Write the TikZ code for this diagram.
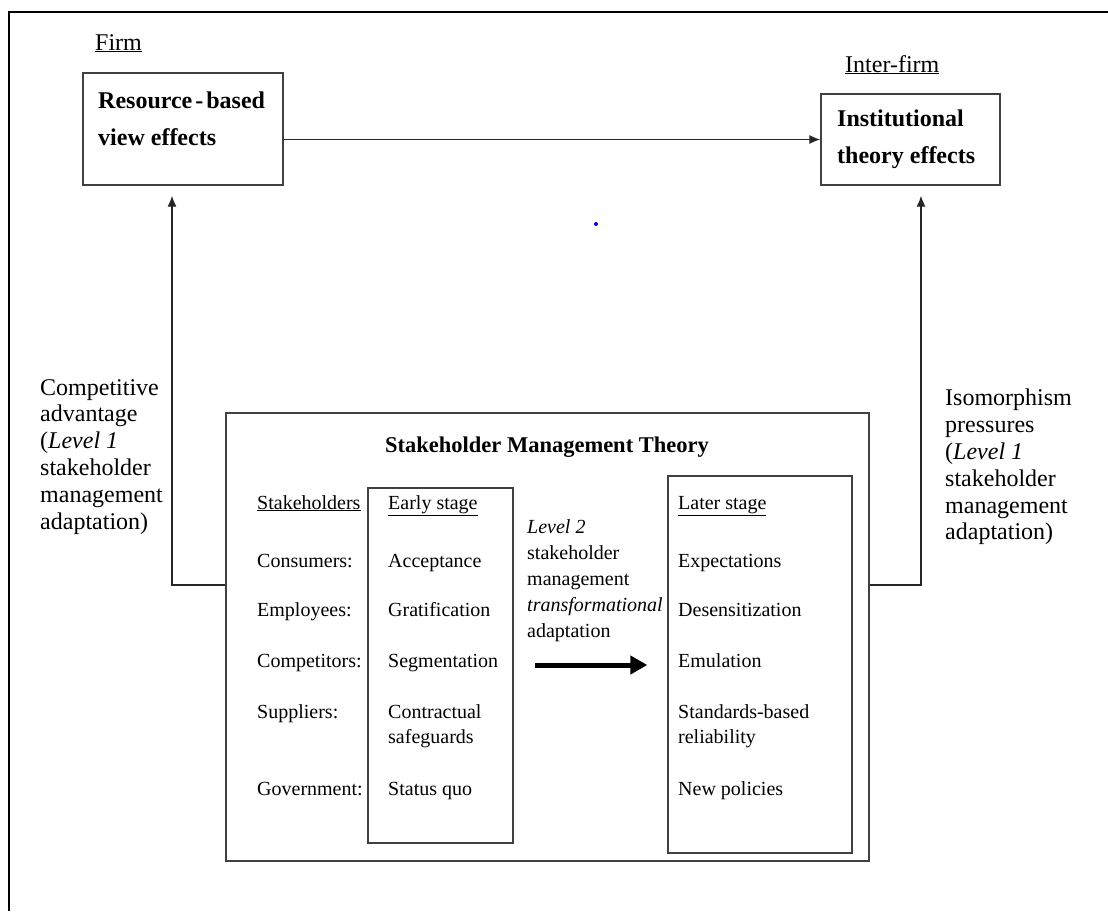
\documentclass[tikz,border=0pt]{standalone}
\usepackage{fontspec}
\setmainfont{Liberation Serif}
\usepackage{tikz}
\usetikzlibrary{arrows.meta}
\tikzset{
  box/.style={draw=black!75, line width=1.3pt, inner sep=0pt},
  frame line/.style={draw=black, line width=2.4pt},
  txt big/.style={font=\fontsize{24}{26.8}\selectfont, inner sep=0pt, align=left},
  txt bold/.style={font=\fontsize{24}{37}\selectfont\bfseries, inner sep=0pt, align=left},
  txt small/.style={font=\fontsize{20}{25}\selectfont, inner sep=0pt, align=left},
  arr/.style={-{Latex[length=11pt,width=9pt]}, line width=1.3pt, draw=black!85},
  fat arr/.style={-{Triangle[length=17pt,width=18pt]}, line width=5pt, draw=black}
}

\begin{document}
\begin{tikzpicture}[x=1pt,y=1pt,yscale=-1,xscale=1]
\useasboundingbox (0,0) rectangle (1108,911);

%Frame
\draw[frame line] (9,911) -- (9,12) -- (1108,12);

%Shape: Rectangle [id:rbv]
\node[box, minimum width=200pt, minimum height=112pt] (rbv) at (183,129) {};
%Shape: Rectangle [id:itb]
\node[box, minimum width=179pt, minimum height=91pt] (itb) at (910.5,139.5) {};
%Shape: Rectangle [id:smt]
\node[box, minimum width=643pt, minimum height=448pt] (smt) at (547.5,637) {};
%Shape: Rectangle [id:early]
\node[box, minimum width=145pt, minimum height=355pt] (early) at (440.5,665.5) {};
%Shape: Rectangle [id:later]
\node[box, minimum width=184pt, minimum height=377pt] (later) at (760,664.5) {};

% Text Node
\node[txt big, anchor=base west] (firm) at (95,50) {\underline{Firm}};
% Text Node
\node[txt big, anchor=base west] (interfirm) at (845,72) {\underline{Inter-firm}};
% Text Node
\node[txt bold, anchor=north west] (rbvtxt) at (98,92) {Resource\kern3pt-\kern3pt based\\view effects};
% Text Node
\node[txt bold, anchor=north west] (ittxt) at (837,110) {Institutional\\theory effects};
% Text Node
\node[txt big, anchor=north west] (compadv) at (40,379) {Competitive\\advantage\\(\textit{Level 1}\\stakeholder\\management\\adaptation)};
% Text Node
\node[txt big, anchor=north west] (isomorph) at (945,389) {Isomorphism\\pressures\\(\textit{Level 1}\\stakeholder\\management\\adaptation)};
% Text Node
\node[txt bold, anchor=base, font=\fontsize{22.5}{30}\selectfont\bfseries] (title) at (547,452) {Stakeholder Management Theory};

% Stakeholders column
\node[txt small, anchor=base west] (sh0) at (257,509) {\underline{Stakeholders}};
\node[txt small, anchor=base west] (sh1) at (257,567) {Consumers:};
\node[txt small, anchor=base west] (sh2) at (257,616) {Employees:};
\node[txt small, anchor=base west] (sh3) at (257,667) {Competitors:};
\node[txt small, anchor=base west] (sh4) at (257,718) {Suppliers:};
\node[txt small, anchor=base west] (sh5) at (257,795) {Government:};

% Early stage column
\node[txt small, anchor=base west] (es0) at (388,509) {\underline{Early stage}};
\node[txt small, anchor=base west] (es1) at (388,567) {Acceptance};
\node[txt small, anchor=base west] (es2) at (388,616) {Gratification};
\node[txt small, anchor=base west] (es3) at (388,667) {Segmentation};
\node[txt small, anchor=north west] (es4) at (388,704) {Contractual\\safeguards};
\node[txt small, anchor=base west] (es5) at (388,795) {Status quo};

% Text Node
\node[txt small, anchor=north west, font=\fontsize{20}{26}\selectfont] (level2) at (527,519.5) {\textit{Level 2}\\stakeholder\\management\\\textit{transformational}\\adaptation};

% Later stage column
\node[txt small, anchor=base west] (ls0) at (678,509) {\underline{Later stage}};
\node[txt small, anchor=base west] (ls1) at (678,567) {Expectations};
\node[txt small, anchor=base west] (ls2) at (678,616) {Desensitization};
\node[txt small, anchor=base west] (ls3) at (678,667) {Emulation};
\node[txt small, anchor=north west] (ls4) at (678,704) {Standards-based\\reliability};
\node[txt small, anchor=base west] (ls5) at (678,795) {New policies};

%Connectors
\coordinate (lft) at (172,585);
\coordinate (rgt) at (921,585);
\coordinate (tstart) at (535,665);
\draw[arr] (rbv.east |- itb.west) -- (itb.west);
\draw[arr, shorten >=10pt] (smt.west |- lft) -| (lft |- rbv.south);
\draw[arr, shorten >=10pt] (smt.east |- rgt) -| (rgt |- itb.south);
\draw[fat arr, shorten >=20pt] (tstart) -- (later.west |- tstart);

%Dot
\fill[blue] (596,224) circle (2pt);

\end{tikzpicture}
\end{document}
